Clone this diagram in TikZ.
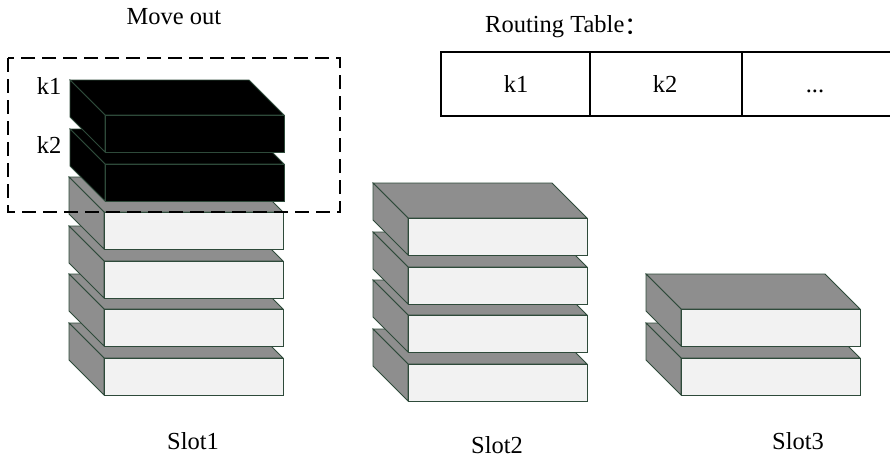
\documentclass[tikz,border=0pt]{standalone}
\usepackage{fontspec}
\setmainfont{Liberation Serif}
\newfontfamily\cjk{Noto Sans CJK SC}
\definecolor{edgegreen}{HTML}{2E4A3A}
\definecolor{sidegray}{HTML}{8E8E8E}
\definecolor{frontgray}{HTML}{F2F2F2}
\newcommand\slab[4]{% x, y, front fill, side fill
  \begin{scope}[shift={(#1,#2)}]
    \filldraw[boxline,fill=#4] (0,0) -- (179,0) -- (214,35) -- (35,35) -- cycle;
    \filldraw[boxline,fill=#4] (0,0) -- (35,35) -- (35,72) -- (0,37) -- cycle;
    \filldraw[boxline,fill=#3] (35,35) rectangle (214,72);
  \end{scope}}
\begin{document}
\begin{tikzpicture}[x=1pt,y=-1pt,
  boxline/.style={draw=edgegreen,line width=0.8pt,line join=miter},
  lbl/.style={font=\fontsize{24.5}{28}\selectfont,inner sep=0pt},
  tableline/.style={line width=1.8pt,draw=black}]
\useasboundingbox (0,0) rectangle (890,461);
% Slot1 (bottom first)
\slab{69}{323}{frontgray}{sidegray}
\slab{69}{274}{frontgray}{sidegray}
\slab{69}{226}{frontgray}{sidegray}
\slab{69}{177}{frontgray}{sidegray}
\slab{70}{129}{black}{black}
\slab{70}{80}{black}{black}
% Slot2
\slab{373}{329}{frontgray}{sidegray}
\slab{373}{280}{frontgray}{sidegray}
\slab{373}{232}{frontgray}{sidegray}
\slab{373}{183}{frontgray}{sidegray}
% Slot3
\slab{646}{323}{frontgray}{sidegray}
\slab{646}{274}{frontgray}{sidegray}
% dashed move-out frame
\draw[line width=2pt,dash pattern=on 14pt off 7pt] (8,58) rectangle (340,212);
% labels
\node[lbl] (moveout) at (174,17) {Move out};
\node[lbl] (k1lbl) at (49,86) {k1};
\node[lbl] (k2lbl) at (49,145) {k2};
\node[lbl] (slot1) at (193,441) {Slot1};
\node[lbl] (slot2) at (497,445) {Slot2};
\node[lbl] (slot3) at (798,441) {Slot3};
\node[lbl,anchor=base west] (rt) at (485,32) {Routing Table\raisebox{-0.12em}{\cjk ：}};
% routing table
\coordinate (tl) at (441,52);
\coordinate (bl) at (441,116);
\coordinate (tr) at (890,52);
\coordinate (br) at (890,116);
\draw[tableline] (tr) -- (tl) -- (bl) -- (br);
\coordinate (d1t) at (590,52);
\coordinate (d1b) at (590,116);
\coordinate (d2t) at (742,52);
\coordinate (d2b) at (742,116);
\draw[line width=1.2pt] (d1t) -- (d1b);
\draw[tableline] (d2t) -- (d2b);
\node[lbl,anchor=base] (c1) at (516,92) {k1};
\node[lbl,anchor=base] (c2) at (665,92) {k2};
\node[lbl,anchor=base] (c3) at (815,92) {...};
\end{tikzpicture}
\end{document}
